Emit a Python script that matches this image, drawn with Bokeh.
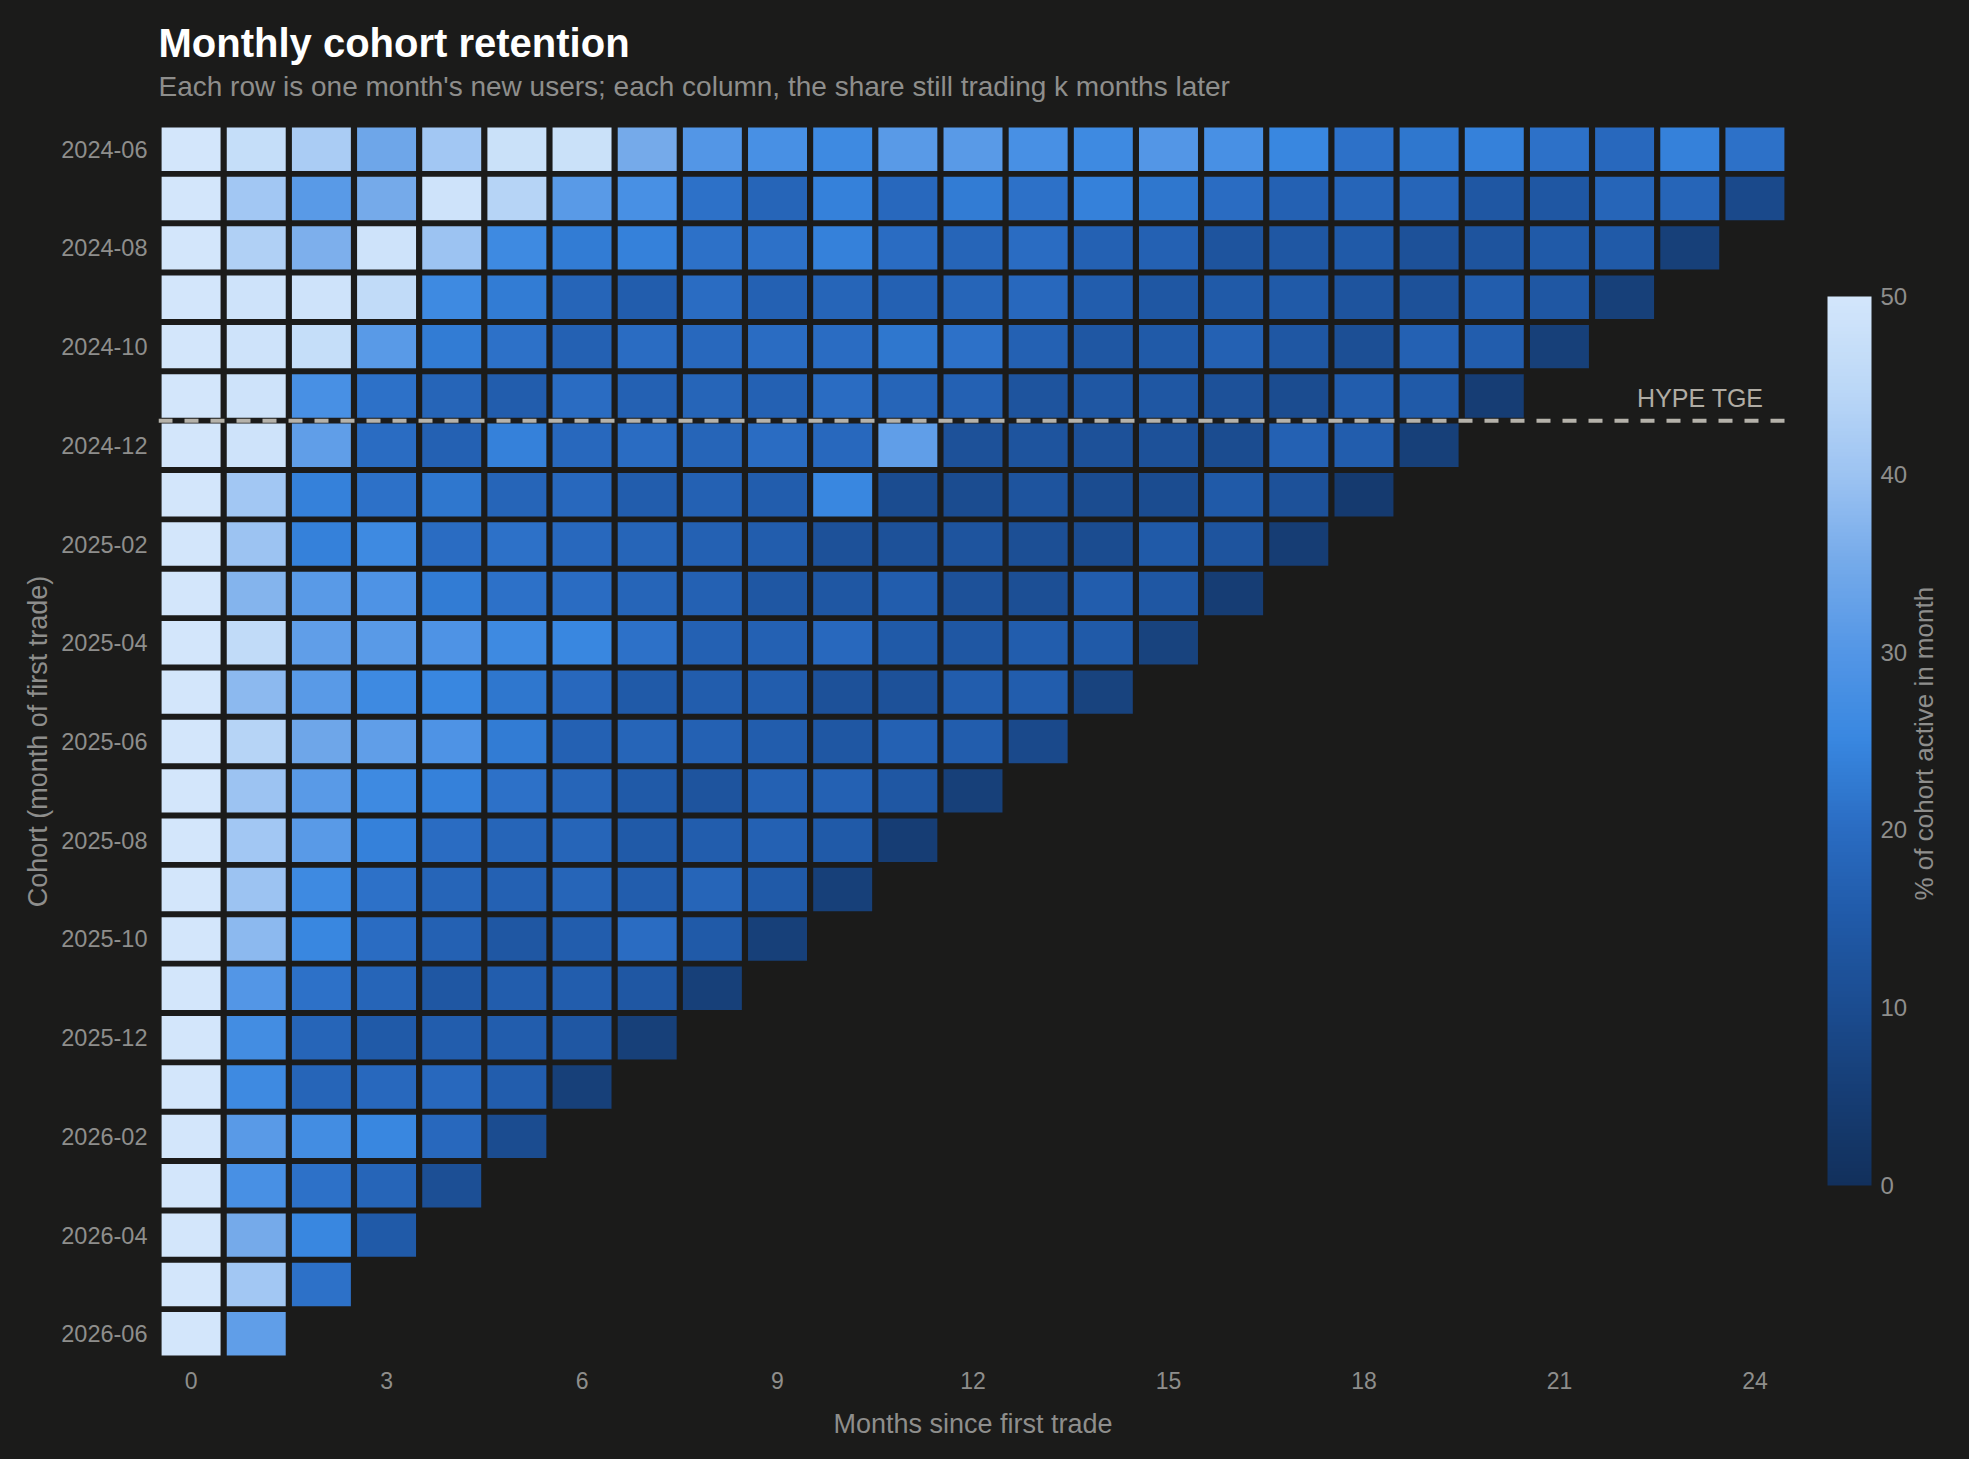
import math
from bokeh.plotting import figure
from bokeh.models import (ColumnDataSource, LinearColorMapper, ColorBar, FixedTicker,
                          Range1d, Span, Label, Title, LinearAxis)
from bokeh.embed import file_html
from bokeh.resources import INLINE

# ---------------- data ----------------
cohorts = ["2024-06", "2024-07", "2024-08", "2024-09", "2024-10", "2024-11",
           "2024-12", "2025-01", "2025-02", "2025-03", "2025-04", "2025-05",
           "2025-06", "2025-07", "2025-08", "2025-09", "2025-10", "2025-11",
           "2025-12", "2026-01", "2026-02", "2026-03", "2026-04", "2026-05",
           "2026-06"]

# % of cohort active k months after first trade (k = 0, 1, 2, ...)
r_2024_06 = [100, 47, 42, 34, 41, 48, 48, 35, 30, 28, 26, 31, 31, 28, 26, 30, 28, 25, 21, 22, 24, 21, 19, 24, 21]
r_2024_07 = [100, 41, 31, 35, 49, 44, 31, 28, 21, 18, 24, 19, 23, 21, 24, 22, 20, 17, 18, 18, 14, 14, 18, 18, 9]
r_2024_08 = [100, 43, 36, 49, 40, 26, 23, 24, 21, 21, 24, 20, 18, 20, 17, 17, 13, 14, 15, 12, 13, 15, 15, 6]
r_2024_09 = [100, 49, 49, 46, 26, 23, 18, 16, 20, 17, 18, 17, 18, 19, 16, 14, 15, 15, 13, 12, 16, 14, 6]
r_2024_10 = [100, 49, 47, 31, 23, 21, 17, 20, 19, 20, 20, 22, 21, 17, 14, 15, 17, 14, 11, 17, 16, 6]
r_2024_11 = [100, 49, 28, 21, 18, 16, 20, 17, 18, 17, 20, 18, 17, 13, 14, 14, 12, 10, 16, 15, 5]
r_2024_12 = [100, 49, 32, 20, 17, 24, 19, 20, 18, 20, 19, 32, 12, 13, 12, 12, 10, 17, 16, 6]
r_2025_01 = [100, 41, 24, 21, 22, 18, 19, 16, 17, 16, 25, 10, 10, 13, 10, 10, 15, 12, 4]
r_2025_02 = [100, 40, 24, 26, 20, 21, 19, 18, 17, 16, 12, 12, 13, 11, 10, 15, 13, 5]
r_2025_03 = [100, 37, 31, 29, 23, 21, 20, 18, 17, 14, 14, 16, 12, 11, 16, 14, 5]
r_2025_04 = [100, 46, 32, 31, 29, 26, 25, 21, 17, 17, 19, 15, 14, 16, 15, 7]
r_2025_05 = [100, 38, 31, 26, 25, 22, 19, 15, 16, 16, 12, 12, 16, 16, 7]
r_2025_06 = [100, 44, 34, 32, 29, 23, 17, 18, 17, 16, 14, 17, 16, 9]
r_2025_07 = [100, 40, 31, 26, 24, 21, 18, 15, 13, 17, 17, 14, 6]
r_2025_08 = [100, 41, 31, 24, 20, 18, 18, 15, 16, 17, 15, 5]
r_2025_09 = [100, 40, 26, 21, 18, 17, 18, 16, 18, 15, 6]
r_2025_10 = [100, 38, 25, 20, 17, 14, 16, 20, 15, 6]
r_2025_11 = [100, 30, 21, 18, 14, 16, 16, 14, 6]
r_2025_12 = [100, 27, 18, 15, 16, 16, 14, 6]
r_2026_01 = [100, 26, 18, 19, 19, 16, 6]
r_2026_02 = [100, 31, 27, 25, 19, 10]
r_2026_03 = [100, 28, 21, 18, 11]
r_2026_04 = [100, 35, 25, 15]
r_2026_05 = [100, 41, 21]
r_2026_06 = [100, 32]

retention = [r_2024_06, r_2024_07, r_2024_08, r_2024_09, r_2024_10, r_2024_11,
             r_2024_12, r_2025_01, r_2025_02, r_2025_03, r_2025_04, r_2025_05,
             r_2025_06, r_2025_07, r_2025_08, r_2025_09, r_2025_10, r_2025_11,
             r_2025_12, r_2026_01, r_2026_02, r_2026_03, r_2026_04, r_2026_05,
             r_2026_06]

x_ticks = [0, 3, 6, 9, 12, 15, 18, 21, 24]
cbar_ticks = [0, 10, 20, 30, 40, 50]
tge_cohort = "2024-12"

# ---------------- style ----------------
BG = "#1b1b1a"
MUTED = "#8e8e8c"
FONT = "Liberation Sans"

anchors = [(0, "#12305c"), (5, "#163d74"), (10, "#1b4c90"), (15, "#205aa8"),
           (20, "#2a6cc2"), (25, "#3887e0"), (30, "#5396e6"), (35, "#74aaea"),
           (40, "#9cc3f2"), (45, "#bcd8f7"), (50, "#d3e6fb")]


def hex2rgb(h):
    return tuple(int(h[i:i + 2], 16) for i in (1, 3, 5))


palette = []
N = 256
for i in range(N):
    v = 50 * i / (N - 1)
    for (v0, c0), (v1, c1) in zip(anchors[:-1], anchors[1:]):
        if v0 <= v <= v1:
            t = (v - v0) / (v1 - v0)
            a, b = hex2rgb(c0), hex2rgb(c1)
            rgb = [round(a[j] + (b[j] - a[j]) * t) for j in range(3)]
            palette.append("#%02x%02x%02x" % tuple(rgb))
            break

mapper = LinearColorMapper(palette=palette, low=0, high=50,
                           high_color=palette[-1], low_color=palette[0])

xs, ys, vals = [], [], []
for r, row in enumerate(retention):
    for k, v in enumerate(row):
        xs.append(k)
        ys.append(r)
        vals.append(v)
src = ColumnDataSource(dict(k=xs, row=ys, v=vals))

W, H = 1961, 1451
FRAME_W, FRAME_H = 1629, 1234
LEFT, TOP = 158, 124
p = figure(width=W, height=H, x_range=Range1d(-0.5, 24.5), y_range=Range1d(24.5, -0.5),
           output_backend="svg", toolbar_location=None, title=None,
           min_border_left=LEFT, min_border_right=W - LEFT - FRAME_W,
           min_border_top=TOP, min_border_bottom=H - TOP - FRAME_H,
           background_fill_color=BG, border_fill_color=BG)
p.outline_line_color = None
p.extra_y_ranges = {"cbt": Range1d(0, FRAME_H)}

# dark page behind a transparent canvas (avoids light seams round the frame)
try:
    from bokeh.models import GlobalInlineStyleSheet, InlineStyleSheet
    p.stylesheets = [
        GlobalInlineStyleSheet(css="html, body { background-color: #1b1b1a; }"),
        InlineStyleSheet(css=":host { background-color: #1b1b1a; }"),
    ]
    p.border_fill_color = None
    p.background_fill_color = None
except ImportError:
    pass

p.rect(x="k", y="row", width=0.905, height=0.88, source=src,
       fill_color={"field": "v", "transform": mapper}, line_color=None)

p.grid.visible = False

for ax in (p.xaxis[0], p.yaxis[0]):
    ax.axis_line_color = None
    ax.major_tick_line_color = None
    ax.minor_tick_line_color = None
    ax.major_tick_out = 0
    ax.major_tick_in = 0
    ax.minor_tick_out = 0
    ax.minor_tick_in = 0
    ax.major_label_text_font = FONT
    ax.major_label_text_color = MUTED
    ax.axis_label_text_font = FONT
    ax.axis_label_text_font_size = "27px"
    ax.axis_label_text_font_style = "normal"
    ax.axis_label_text_color = MUTED

p.xaxis.ticker = FixedTicker(ticks=x_ticks)
p.xaxis.axis_label = "Months since first trade"
p.xaxis.major_label_text_font_size = "23px"
p.xaxis.major_label_standoff = 13
p.xaxis.axis_label_standoff = 17

p.yaxis.ticker = FixedTicker(ticks=list(range(0, len(cohorts), 2)))
p.yaxis.major_label_overrides = {i: cohorts[i] for i in range(0, len(cohorts), 2)}
p.yaxis.major_label_text_font_size = "23.5px"
p.yaxis.axis_label = "Cohort (month of first trade)"
p.yaxis.major_label_standoff = 11
p.yaxis.axis_label_standoff = 5

# HYPE TGE marker between 2024-11 and 2024-12 cohorts
tge_y = cohorts.index(tge_cohort) - 0.5
p.add_layout(Span(location=tge_y, dimension="width", line_color="#b5b2aa",
                  line_width=4, line_dash="14 12"))
p.add_layout(Label(x=24.5, y=tge_y, x_offset=-24, y_offset=23, text="HYPE TGE",
                   text_align="right", text_baseline="alphabetic",
                   text_font=FONT, text_font_size="25px", text_color="#b0aca4"))

# colour bar
cb = ColorBar(color_mapper=mapper, ticker=FixedTicker(ticks=cbar_ticks),
              width=44, height=889, location=(40, 173), padding=0,
              label_standoff=9, major_label_text_font=FONT,
              major_label_text_font_size="24px", major_label_text_color=MUTED,
              major_tick_line_color=None, minor_tick_line_color=None,
              major_tick_out=0, major_tick_in=0,
              bar_line_color=None, border_line_color=None,
              background_fill_color=None)
p.add_layout(cb, "right")

# colour-bar title: a single rotated label on a bare right-hand axis
cb_title = "% of cohort active in month"
cb_title_start = 458  # px above the frame bottom where the rotated text begins
cb_axis = LinearAxis(y_range_name="cbt", ticker=FixedTicker(ticks=[cb_title_start]),
                     major_label_overrides={cb_title_start: cb_title},
                     major_label_orientation=math.pi / 2,
                     major_label_standoff=13,
                     major_label_text_font=FONT, major_label_text_font_size="26px",
                     major_label_text_color=MUTED,
                     axis_line_color=None, major_tick_line_color=None,
                     minor_tick_line_color=None, major_tick_out=0, major_tick_in=0,
                     minor_tick_out=0, minor_tick_in=0)
p.add_layout(cb_axis, "right")

# titles (first added sits next to the plot)
p.add_layout(Title(text="Each row is one month's new users; each column, the share still trading k months later",
                   align="left", vertical_align="bottom", standoff=45,
                   text_font=FONT, text_font_size="28px", text_font_style="normal",
                   text_color=MUTED), "above")
p.add_layout(Title(text="Monthly cohort retention", align="left", vertical_align="bottom",
                   standoff=-37, text_font=FONT, text_font_size="40px",
                   text_font_style="bold", text_color="#ffffff"), "above")

open("out.html", "w").write(file_html(p, INLINE))
